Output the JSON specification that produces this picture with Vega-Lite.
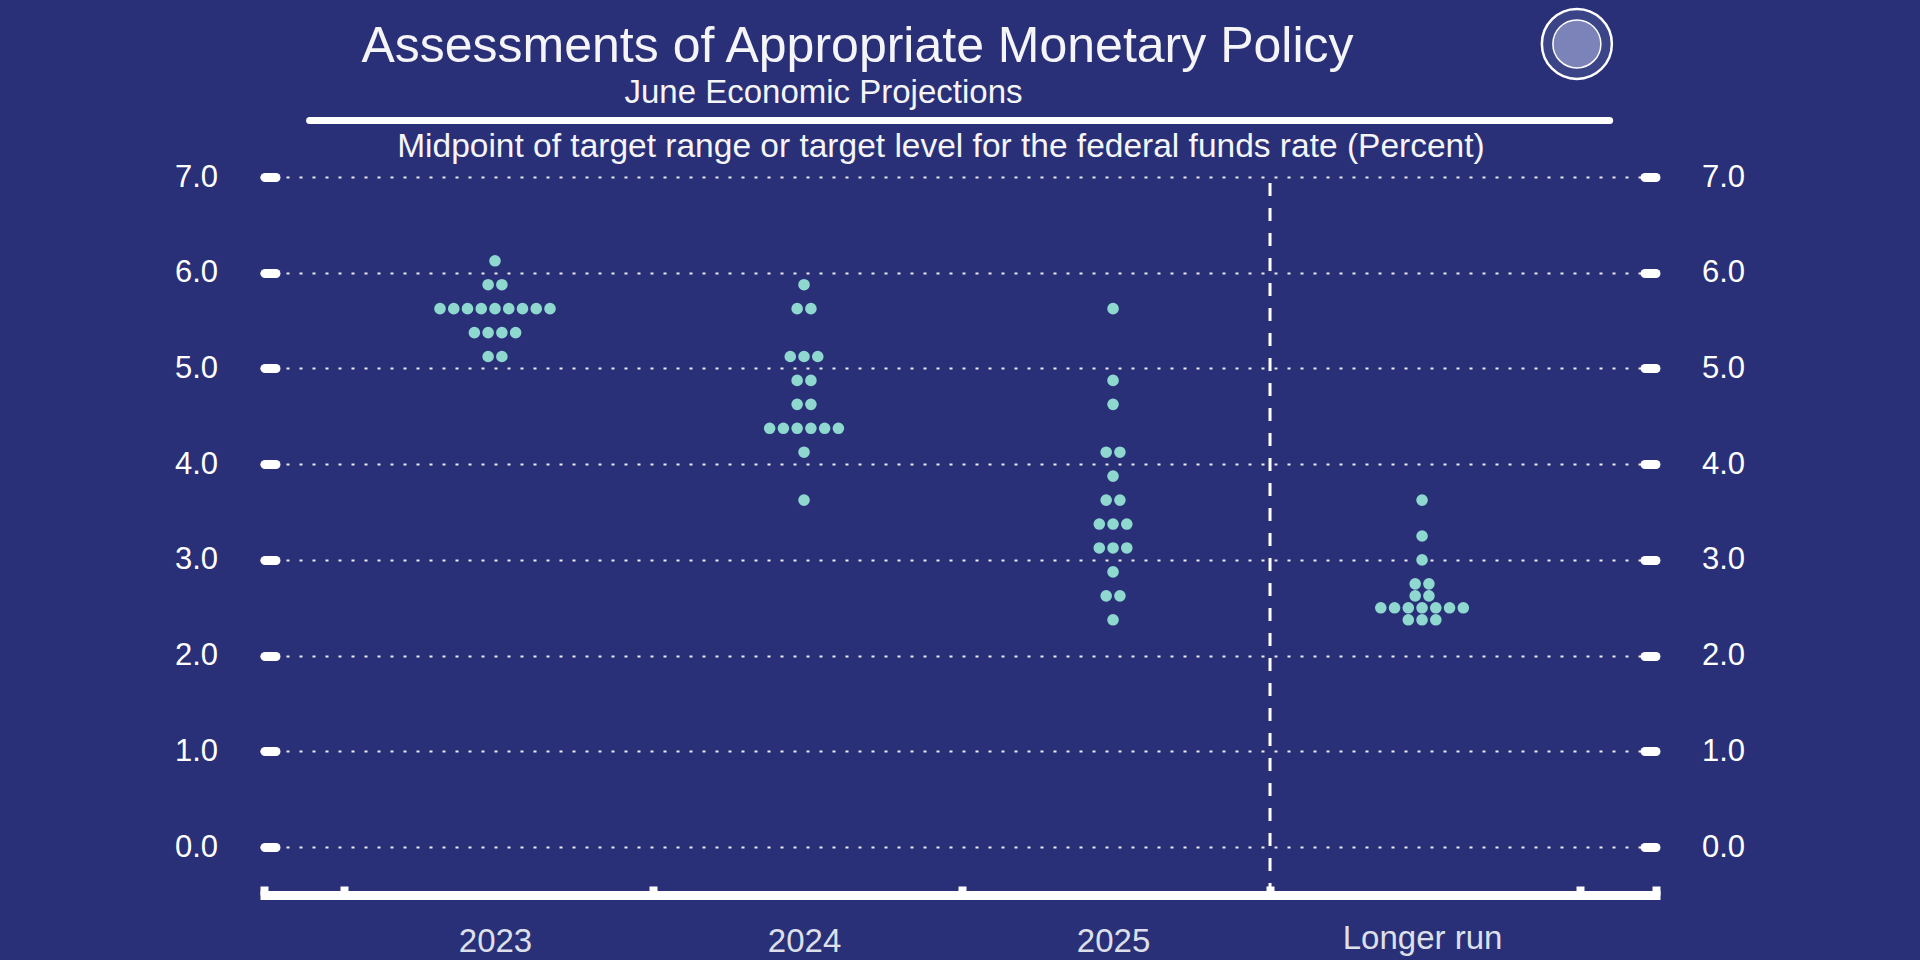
{
  "$schema": "https://vega.github.io/schema/vega-lite/v6.json",
  "width": 1400,
  "height": 718,
  "autosize": {"type": "none"},
  "padding": {"left": 260, "top": 177, "right": 260, "bottom": 65},
  "background": "#293078",
  "config": {
    "view": {"stroke": null},
    "font": "Liberation Sans",
    "text": {"font": "Liberation Sans"}
  },
  "resolve": {"axis": {"x": "independent", "y": "independent"}},
  "layer": [
    {
      "data": {
        "values": [
          {"period": "2023", "rate": 6.125},
          {"period": "2023", "rate": 5.875}, {"period": "2023", "rate": 5.875},
          {"period": "2023", "rate": 5.625}, {"period": "2023", "rate": 5.625}, {"period": "2023", "rate": 5.625},
          {"period": "2023", "rate": 5.625}, {"period": "2023", "rate": 5.625}, {"period": "2023", "rate": 5.625},
          {"period": "2023", "rate": 5.625}, {"period": "2023", "rate": 5.625}, {"period": "2023", "rate": 5.625},
          {"period": "2023", "rate": 5.375}, {"period": "2023", "rate": 5.375}, {"period": "2023", "rate": 5.375}, {"period": "2023", "rate": 5.375},
          {"period": "2023", "rate": 5.125}, {"period": "2023", "rate": 5.125},
          {"period": "2024", "rate": 5.875},
          {"period": "2024", "rate": 5.625}, {"period": "2024", "rate": 5.625},
          {"period": "2024", "rate": 5.125}, {"period": "2024", "rate": 5.125}, {"period": "2024", "rate": 5.125},
          {"period": "2024", "rate": 4.875}, {"period": "2024", "rate": 4.875},
          {"period": "2024", "rate": 4.625}, {"period": "2024", "rate": 4.625},
          {"period": "2024", "rate": 4.375}, {"period": "2024", "rate": 4.375}, {"period": "2024", "rate": 4.375},
          {"period": "2024", "rate": 4.375}, {"period": "2024", "rate": 4.375}, {"period": "2024", "rate": 4.375},
          {"period": "2024", "rate": 4.125},
          {"period": "2024", "rate": 3.625},
          {"period": "2025", "rate": 5.625},
          {"period": "2025", "rate": 4.875},
          {"period": "2025", "rate": 4.625},
          {"period": "2025", "rate": 4.125}, {"period": "2025", "rate": 4.125},
          {"period": "2025", "rate": 3.875},
          {"period": "2025", "rate": 3.625}, {"period": "2025", "rate": 3.625},
          {"period": "2025", "rate": 3.375}, {"period": "2025", "rate": 3.375}, {"period": "2025", "rate": 3.375},
          {"period": "2025", "rate": 3.125}, {"period": "2025", "rate": 3.125}, {"period": "2025", "rate": 3.125},
          {"period": "2025", "rate": 2.875},
          {"period": "2025", "rate": 2.625}, {"period": "2025", "rate": 2.625},
          {"period": "2025", "rate": 2.375},
          {"period": "Longer run", "rate": 3.625},
          {"period": "Longer run", "rate": 3.25},
          {"period": "Longer run", "rate": 3.0},
          {"period": "Longer run", "rate": 2.75}, {"period": "Longer run", "rate": 2.75},
          {"period": "Longer run", "rate": 2.625}, {"period": "Longer run", "rate": 2.625},
          {"period": "Longer run", "rate": 2.5}, {"period": "Longer run", "rate": 2.5}, {"period": "Longer run", "rate": 2.5},
          {"period": "Longer run", "rate": 2.5}, {"period": "Longer run", "rate": 2.5}, {"period": "Longer run", "rate": 2.5},
          {"period": "Longer run", "rate": 2.5},
          {"period": "Longer run", "rate": 2.375}, {"period": "Longer run", "rate": 2.375}, {"period": "Longer run", "rate": 2.375}
        ]
      },
      "transform": [
        {"window": [{"op": "row_number", "as": "k"}], "groupby": ["period", "rate"]},
        {"joinaggregate": [{"op": "count", "as": "n"}], "groupby": ["period", "rate"]},
        {"calculate": "indexof(['2023','2024','2025','Longer run'], datum.period) + (datum.k - (datum.n + 1) / 2) * 0.0445", "as": "xpos"}
      ],
      "mark": {"type": "point", "shape": "circle", "filled": true, "size": 135, "opacity": 1, "color": "#8ed8cf"},
      "encoding": {
        "x": {
          "field": "xpos", "type": "quantitative",
          "scale": {"domain": [-0.7605, 3.77], "zero": false, "nice": false},
          "axis": {
            "orient": "bottom",
            "title": null,
            "values": [-0.748, -0.49, 0, 0.51, 1, 1.51, 2, 2.508, 3, 3.51, 3.757],
            "labelExpr": "datum.value == 0 ? '2023' : datum.value == 1 ? '2024' : datum.value == 2 ? '2025' : datum.value == 3 ? 'Longer run' : ''",
            "labelFont": "Liberation Sans",
            "labelFontSize": 33,
            "labelColor": "#dde0ea",
            "labelBaseline": "alphabetic",
            "labelPadding": {"condition": {"test": "datum.value == 3", "value": 62}, "value": 65},
            "labelOverlap": false,
            "labelFlush": false,
            "labelBound": false,
            "domain": true,
            "domainColor": "#ffffff",
            "domainWidth": 9,
            "ticks": true,
            "tickColor": "#ffffff",
            "tickWidth": 8,
            "tickSize": -9,
            "tickOpacity": {"condition": {"test": "datum.value % 1 == 0", "value": 0}, "value": 1},
            "grid": false
          }
        },
        "y": {
          "field": "rate", "type": "quantitative",
          "scale": {"domain": [-0.5, 7], "zero": false, "nice": false},
          "axis": {
            "orient": "left",
            "title": null,
            "values": [0, 1, 2, 3, 4, 5, 6, 7],
            "format": ".1f",
            "offset": -15.5,
            "domain": false,
            "ticks": true,
            "tickSize": 11,
            "tickWidth": 9,
            "tickCap": "round",
            "tickColor": "#ffffff",
            "labelFont": "Liberation Sans",
            "labelFontSize": 31,
            "labelColor": "#ffffff",
            "labelPadding": 47,
            "grid": true,
            "gridColor": "#ffffff",
            "gridWidth": 2,
            "gridDash": [3, 10],
            "gridOpacity": 0.9
          }
        }
      }
    },
    {
      "data": {"values": [{}]},
      "mark": {"type": "rule", "color": "#ffffff", "strokeWidth": 3, "strokeDash": [13, 12]},
      "encoding": {
        "x": {"datum": 2.508, "type": "quantitative", "scale": {"domain": [-0.7605, 3.77], "zero": false, "nice": false}, "axis": null},
        "y": {
          "datum": 6.937, "type": "quantitative",
          "scale": {"domain": [-0.5, 7], "zero": false, "nice": false},
          "axis": {
            "orient": "right",
            "title": null,
            "values": [0, 1, 2, 3, 4, 5, 6, 7],
            "format": ".1f",
            "offset": -15.5,
            "domain": false,
            "ticks": true,
            "tickSize": 11,
            "tickWidth": 9,
            "tickCap": "round",
            "tickColor": "#ffffff",
            "labelFont": "Liberation Sans",
            "labelFontSize": 31,
            "labelColor": "#ffffff",
            "labelPadding": 46,
            "grid": false
          }
        },
        "y2": {"datum": -0.5}
      }
    },
    {
      "data": {"values": [{}]},
      "mark": {"type": "rule", "color": "#ffffff", "strokeWidth": 7, "strokeCap": "round"},
      "encoding": {
        "x": {"datum": -0.6, "type": "quantitative", "scale": {"domain": [-0.7605, 3.77], "zero": false, "nice": false}, "axis": null},
        "x2": {"datum": 3.607},
        "y": {"datum": 7.59, "type": "quantitative", "scale": {"domain": [-0.5, 7], "zero": false, "nice": false}, "axis": null}
      }
    },
    {
      "data": {"values": [{}]},
      "mark": {"type": "text", "text": "Assessments of Appropriate Monetary Policy", "font": "Liberation Sans", "fontSize": 50, "color": "#f5f5f8", "align": "center", "baseline": "alphabetic"},
      "encoding": {
        "x": {"datum": 1.173, "type": "quantitative", "scale": {"domain": [-0.7605, 3.77], "zero": false, "nice": false}, "axis": null},
        "y": {"datum": 8.2, "type": "quantitative", "scale": {"domain": [-0.5, 7], "zero": false, "nice": false}, "axis": null}
      }
    },
    {
      "data": {"values": [{}]},
      "mark": {"type": "text", "text": "June Economic Projections", "font": "Liberation Sans", "fontSize": 33, "color": "#f5f5f8", "align": "center", "baseline": "alphabetic"},
      "encoding": {
        "x": {"datum": 1.063, "type": "quantitative", "scale": {"domain": [-0.7605, 3.77], "zero": false, "nice": false}, "axis": null},
        "y": {"datum": 7.773, "type": "quantitative", "scale": {"domain": [-0.5, 7], "zero": false, "nice": false}, "axis": null}
      }
    },
    {
      "data": {"values": [{}]},
      "mark": {"type": "text", "text": "Midpoint of target range or target level for the federal funds rate (Percent)", "font": "Liberation Sans", "fontSize": 33.5, "color": "#f5f5f8", "align": "center", "baseline": "alphabetic"},
      "encoding": {
        "x": {"datum": 1.443, "type": "quantitative", "scale": {"domain": [-0.7605, 3.77], "zero": false, "nice": false}, "axis": null},
        "y": {"datum": 7.209, "type": "quantitative", "scale": {"domain": [-0.5, 7], "zero": false, "nice": false}, "axis": null}
      }
    },
    {
      "data": {"values": [{}]},
      "mark": {"type": "point", "shape": "circle", "size": 4900, "filled": false, "fill": "#3c4488", "fillOpacity": 1, "stroke": "#ffffff", "strokeWidth": 2.5, "opacity": 1},
      "encoding": {
        "x": {"datum": 3.501, "type": "quantitative", "scale": {"domain": [-0.7605, 3.77], "zero": false, "nice": false}, "axis": null},
        "y": {"datum": 8.39, "type": "quantitative", "scale": {"domain": [-0.5, 7], "zero": false, "nice": false}, "axis": null}
      }
    },
    {
      "data": {"values": [{}]},
      "mark": {"type": "point", "shape": "circle", "size": 2300, "filled": false, "fill": "#7c83b8", "fillOpacity": 1, "stroke": "#ffffff", "strokeWidth": 1.5, "opacity": 1},
      "encoding": {
        "x": {"datum": 3.501, "type": "quantitative", "scale": {"domain": [-0.7605, 3.77], "zero": false, "nice": false}, "axis": null},
        "y": {"datum": 8.39, "type": "quantitative", "scale": {"domain": [-0.5, 7], "zero": false, "nice": false}, "axis": null}
      }
    }
  ]
}
